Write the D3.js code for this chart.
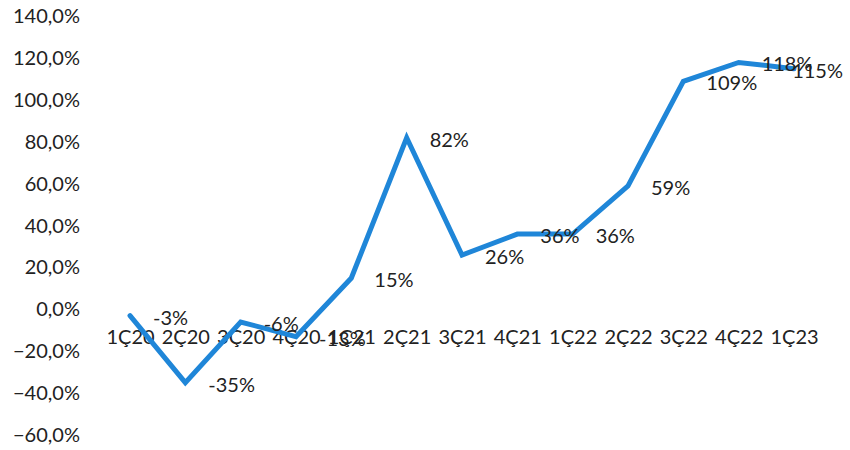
<!DOCTYPE html>
<html>
<head>
<meta charset="utf-8">
<script src="https://cdn.jsdelivr.net/npm/d3@7"></script>
<style>
  html, body { margin: 0; padding: 0; background: #fff; }
  svg { display: block; }
  text { font-family: Lato, "Open Sans", sans-serif; fill: #222; }
</style>
</head>
<body>
<svg id="chart" width="850" height="450"></svg>
<script>
const categories = ["1Ç20","2Ç20","3Ç20","4Ç20","1Ç21","2Ç21","3Ç21","4Ç21","1Ç22","2Ç22","3Ç22","4Ç22","1Ç23"];
const values = [-3, -35, -6, -13, 15, 82, 26, 36, 36, 59, 109, 118, 115];
const yTicks = [-60, -40, -20, 0, 20, 40, 60, 80, 100, 120, 140];

const svg = d3.select("#chart");
const W = 850;
const FS = "20px";

const x = d3.scalePoint().domain(categories).range([130, 794]);
const y = d3.scaleLinear().domain([-60, 140]).range([435, 16.4]);

const fmtY = v => d3.format(".1f")(v).replace(".", ",") + "%";

// Y axis
const gy = svg.append("g")
  .attr("transform", "translate(80,0)")
  .call(d3.axisLeft(y).tickValues(yTicks).tickFormat(fmtY).tickSize(0).tickPadding(0));
gy.select(".domain").remove();
gy.selectAll("text")
  .style("font-family", "Lato, 'Open Sans', sans-serif")
  .style("font-size", FS)
  .attr("fill", "#222");

// X axis (category labels at zero line)
const gx = svg.append("g")
  .attr("transform", `translate(0,${y(0)})`)
  .call(d3.axisBottom(x).tickSize(0).tickPadding(20));
gx.select(".domain").remove();
gx.selectAll("text")
  .style("font-family", "Lato, 'Open Sans', sans-serif")
  .style("font-size", FS)
  .attr("fill", "#222");

// Line
const line = d3.line()
  .x((d, i) => x(categories[i]))
  .y(d => y(d));

svg.append("path")
  .datum(values)
  .attr("d", line)
  .attr("fill", "none")
  .attr("stroke", "#1f86d8")
  .attr("stroke-width", 5)
  .attr("stroke-linejoin", "miter")
  .attr("stroke-linecap", "round");

// Data labels (right of points)
const labels = svg.append("g").selectAll("text")
  .data(values)
  .join("text")
  .attr("x", (d, i) => x(categories[i]) + 23)
  .attr("y", d => y(d) + 1)
  .attr("dominant-baseline", "central")
  .style("font-size", FS)
  .text(d => d + "%");

labels.each(function() {
  const w = this.getComputedTextLength();
  const x0 = +this.getAttribute("x");
  if (x0 + w > W - 7) this.setAttribute("x", W - 7 - w);
});
</script>
</body>
</html>
